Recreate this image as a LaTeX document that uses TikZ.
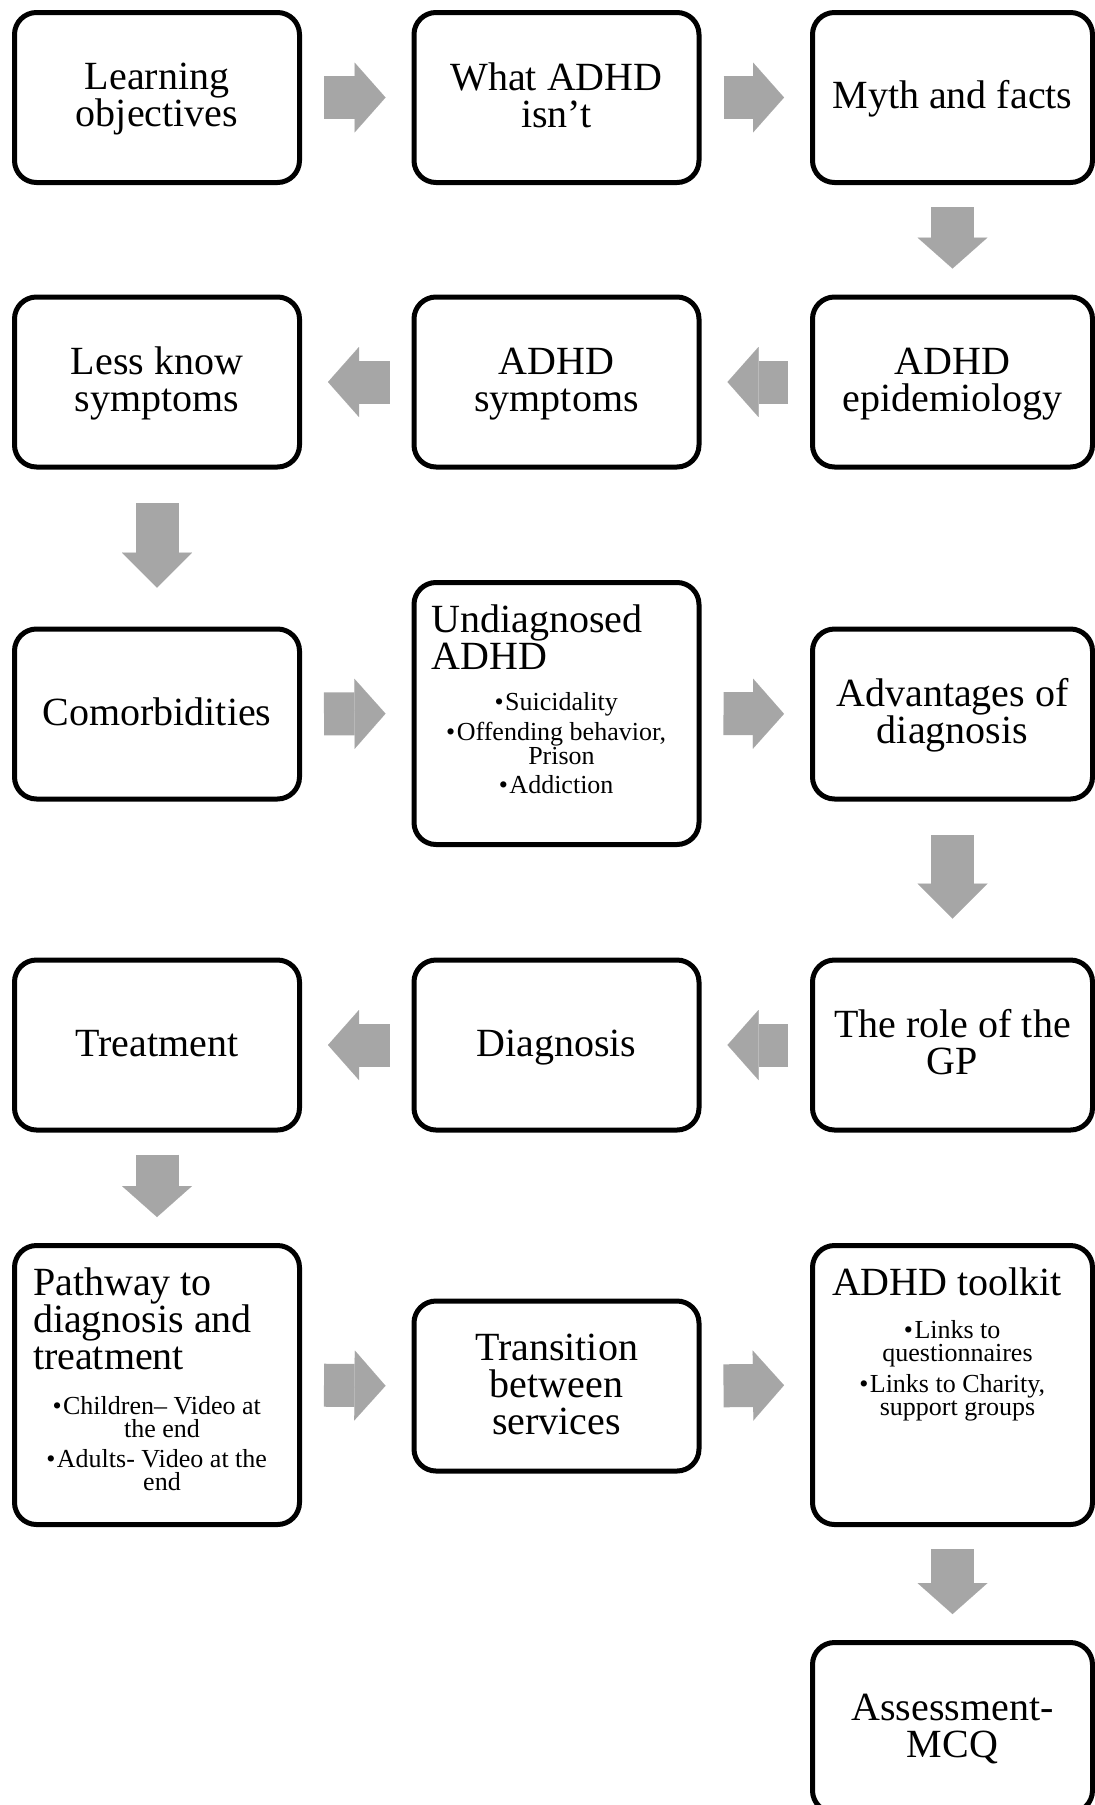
\documentclass[tikz,border=0pt]{standalone}
\usepackage{fontspec}
\setmainfont{Liberation Serif}
\usetikzlibrary{arrows.meta}

\definecolor{arrowgray}{HTML}{A6A6A6}
\newcommand{\headfont}{\fontsize{40pt}{37pt}\selectfont}
\newcommand{\itemfont}{\fontsize{26pt}{23.5pt}\selectfont}
\newcommand{\itemblock}{\itemfont\centering\leftskip=10pt plus 1fil\relax}
\newcommand{\bitem}[1]{\noindent\llap{\textbullet\hspace{1.5pt}}#1\par\vspace{6pt}}
\newcommand{\topstrut}{\rule{0pt}{30pt}}
\newcommand{\botstrut}{\rule[-8pt]{0pt}{8pt}}

\begin{document}
\begin{tikzpicture}[x=1pt, y=-1pt,
    box/.style={draw, line width=5pt, rounded corners=22pt, outer sep=0pt,
        minimum width=285pt, minimum height=170pt, inner sep=0pt,
        align=center, font=\headfont},
    narrow/.style={minimum width=280pt},
    oneline/.style={text height=30pt, text depth=8pt},
    flow/.style={draw=arrowgray, line width=43pt,
        -{Triangle[width=70pt, length=31pt, line width=0.01pt]},
        shorten <=24.5pt, shorten >=28.5pt},
    flow long/.style={flow,
        -{Triangle[width=70pt, length=35pt, line width=0.01pt]},
        shorten <=36pt, shorten >=41.5pt}]

    \useasboundingbox (0,0) rectangle (1095,1805);

    % ROW 1
    \node[box] (learn) at (157,97.5) {\topstrut Learning\\objectives\botstrut};
    \node[box] (isnt) at (556.5,97.5) {\topstrut What ADHD\\isn’t\botstrut};
    \node[box, narrow, oneline] (myth) at (952.5,97.5) {Myth and facts};

    % ROW 2
    \node[box, narrow] (epid) at (952.5,382) {\topstrut ADHD\\epidemiology\botstrut};
    \node[box] (sympt) at (556.5,382) {\topstrut ADHD\\symptoms\botstrut};
    \node[box] (less) at (157,382) {\topstrut Less know\\symptoms\botstrut};

    % ROW 3
    \node[box, oneline] (comorb) at (157,714) {Comorbidities};
    \node[box, minimum height=262pt] (undiag) at (556.5,713.5) {%
        \begin{minipage}[c][262pt][t]{285pt}
            \vspace*{19.5pt}
            \headfont\raggedright\leftskip=17.5pt
            \rule{0pt}{30pt}Undiagnosed\\ADHD\par
            \vspace{17.5pt}
            \itemblock
            \bitem{Suicidality}
            \bitem{Offending behavior,\\Prison}
            \bitem{Addiction}
        \end{minipage}};
    \node[box, narrow] (advant) at (952.5,714) {\topstrut Advantages of\\diagnosis\botstrut};

    % ROW 4
    \node[box, narrow] (gp) at (952.5,1045) {\topstrut The role of the\\GP\botstrut};
    \node[box, oneline] (diagn) at (556.5,1045) {Diagnosis};
    \node[box, oneline] (treat) at (157,1045) {Treatment};

    % ROW 5
    \node[box, minimum height=279pt] (pathway) at (157,1385) {%
        \begin{minipage}[c][279pt][t]{285pt}
            \vspace*{19.5pt}
            \headfont\raggedright\leftskip=18.5pt
            \rule{0pt}{30pt}Pathway to\\diagnosis and\\treatment\par
            \vspace{21.5pt}
            \itemblock
            \bitem{Children– Video at\\the end}
            \bitem{Adults- Video at the\\end}
        \end{minipage}};
    \node[box] (trans) at (556.5,1386) {\topstrut Transition\\between\\services\botstrut};
    \node[box, narrow, minimum height=279pt] (toolkit) at (952.5,1385) {%
        \begin{minipage}[c][279pt][t]{280pt}
            \vspace*{19.5pt}
            \headfont\raggedright\leftskip=19.5pt
            \rule{0pt}{30pt}ADHD toolkit\par
            \vspace{19.5pt}
            \itemblock
            \bitem{Links to\\questionnaires}
            \bitem{Links to Charity,\\support groups}
        \end{minipage}};

    % ROW 6
    \node[box, narrow] (mcq) at (952.5,1727.5) {\topstrut Assessment-\\MCQ\botstrut};

    % FLOW ARROWS
    \draw[flow] (learn.east) -- (isnt.west);
    \draw[flow] (isnt.east) -- (myth.west);
    \draw[flow] (myth.south) -- (epid.north);
    \draw[flow] (epid.west) -- (sympt.east);
    \draw[flow] (sympt.west) -- (less.east);
    \draw[flow long] (less.south) -- (comorb.north);
    \draw[flow] (comorb.east) -- (undiag.west);
    \draw[flow] (undiag.east) -- (advant.west);
    \draw[flow long] (advant.south) -- (gp.north);
    \draw[flow] (gp.west) -- (diagn.east);
    \draw[flow] (diagn.west) -- (treat.east);
    \draw[flow] (treat.south) -- (pathway.north);
    \draw[flow] (pathway.east) -- (trans.west);
    \draw[flow] (trans.east) -- (toolkit.west);
    \draw[flow] (toolkit.south) -- (mcq.north);

\end{tikzpicture}
\end{document}
